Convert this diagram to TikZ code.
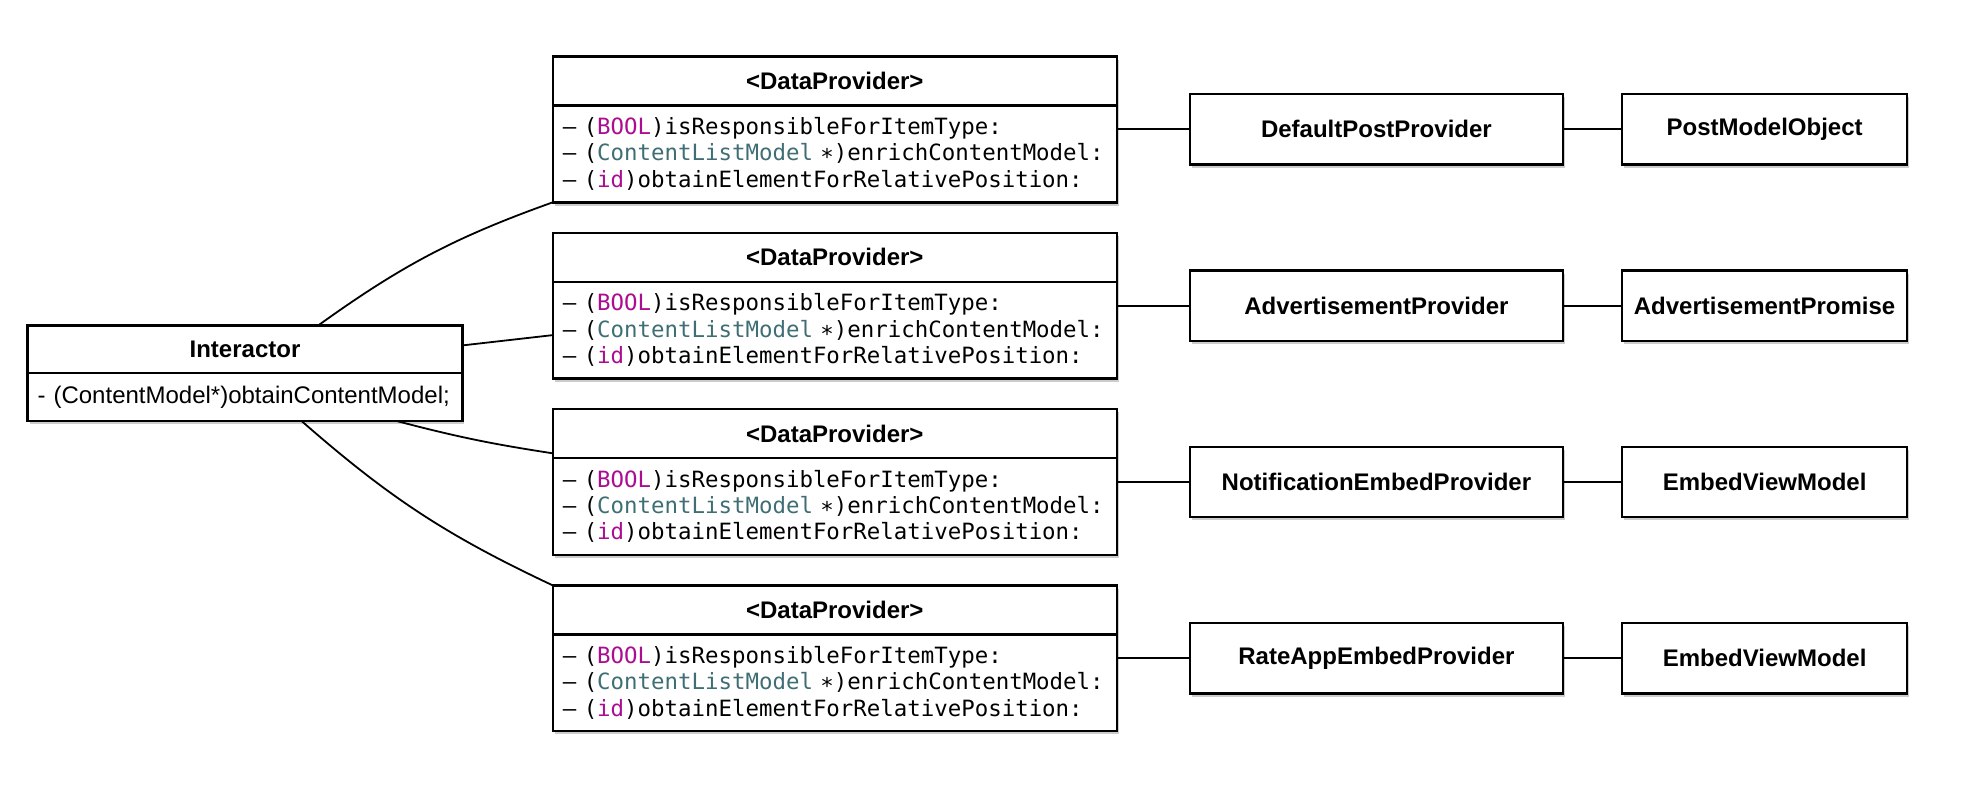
\documentclass[tikz,border=0pt]{standalone}
\usepackage{fontspec}
\setmainfont{Liberation Sans}
\setmonofont{DejaVu Sans Mono}
\usepackage{xcolor}
\usetikzlibrary{positioning,shadows}
\definecolor{kwpink}{HTML}{AA0D91}
\definecolor{clsteal}{HTML}{3F6E74}
\newcommand{\dpmethods}{%
    –~(\textcolor{kwpink}{BOOL})isResponsibleForItemType:\\
    –~(\textcolor{clsteal}{ContentListModel}~∗)enrichContentModel:\\
    –~(\textcolor{kwpink}{id})obtainElementForRelativePosition:}

\begin{document}
\begin{tikzpicture}[x=0.5pt,y=-0.5pt,
    box/.style={draw=black,fill=white,line width=1.2pt,outer sep=0pt,
        drop shadow={shadow xshift=1pt,shadow yshift=-1.6pt,opacity=0.4}},
    hdr/.style={box,font=\bfseries\fontsize{12}{14}\selectfont,inner sep=0pt},
    dphdr/.style={hdr,minimum width=282pt,minimum height=24.5pt},
    dpbody/.style={box,font=\ttfamily\fontsize{11.2}{13.2}\selectfont,text width=272pt,
        inner xsep=5pt,align=left,minimum height=48.4pt},
    prov/.style={hdr,minimum width=186.6pt,minimum height=35.2pt},
    mdl/.style={hdr,minimum width=142.6pt,minimum height=35.2pt},
    link/.style={line width=0.9pt}]
    \useasboundingbox (0,0) rectangle (1970,792);

    % interactor
    \node [hdr,minimum width=217.4pt,minimum height=23.8pt,anchor=north west] (inth) at (27.6,325.4) {Interactor};
    \node [box,below=0pt of inth,font=\fontsize{12}{14}\selectfont,text width=207.4pt,inner xsep=5pt,
        align=left,minimum height=24pt] (intb) {- (ContentModel*)obtainContentModel;};

    % data providers
    \node [dphdr,anchor=north west] (dp1h) at (552.8,56.5) {<DataProvider>};
    \node [dpbody,below=0pt of dp1h] (dp1b) {\dpmethods};
    \node [dphdr,anchor=north west] (dp2h) at (552.8,232.8) {<DataProvider>};
    \node [dpbody,below=0pt of dp2h] (dp2b) {\dpmethods};
    \node [dphdr,anchor=north west] (dp3h) at (552.8,409.1) {<DataProvider>};
    \node [dpbody,below=0pt of dp3h] (dp3b) {\dpmethods};
    \node [dphdr,anchor=north west] (dp4h) at (552.8,585.4) {<DataProvider>};
    \node [dpbody,below=0pt of dp4h] (dp4b) {\dpmethods};

    % concrete providers and their models
    \node [prov] (pp1) at (1376.4,129.4) {DefaultPostProvider};
    \node [prov] (pp2) at (1376.4,305.7) {AdvertisementProvider};
    \node [prov] (pp3) at (1376.4,482.0) {NotificationEmbedProvider};
    \node [prov] (pp4) at (1376.4,658.3) {RateAppEmbedProvider};
    \node [mdl] (pm1) at (1764.6,129.4) {PostModelObject};
    \node [mdl] (pm2) at (1764.6,305.7) {AdvertisementPromise};
    \node [mdl] (pm3) at (1764.6,482.0) {EmbedViewModel};
    \node [mdl] (pm4) at (1764.6,658.3) {EmbedViewModel};

    \draw [link] (inth.18) to[bend left=8] (dp1b.south west);
    \draw [link] (inth.1) -- (dp2b.181);
    \draw [link] (intb.-9) to[bend right=3] (dp3h.184);
    \draw [link] (intb.-23) to[bend right=8] (dp4h.north west);

    \draw [link] (dp1b.east |- pp1.west) -- (pp1.west);
    \draw [link] (dp2b.east |- pp2.west) -- (pp2.west);
    \draw [link] (dp3b.east |- pp3.west) -- (pp3.west);
    \draw [link] (dp4b.east |- pp4.west) -- (pp4.west);
    \draw [link] (pp1.east) -- (pm1.west);
    \draw [link] (pp2.east) -- (pm2.west);
    \draw [link] (pp3.east) -- (pm3.west);
    \draw [link] (pp4.east) -- (pm4.west);
\end{tikzpicture}
\end{document}
